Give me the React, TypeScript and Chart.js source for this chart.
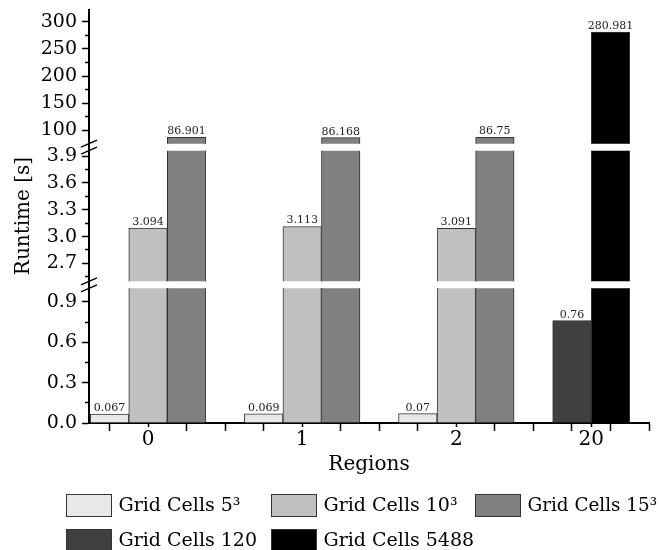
import React, { useEffect, useRef } from 'react';
import { Chart, registerables } from 'chart.js';

Chart.register(...registerables);

// ---- data ----
const regions = ['0', '1', '2', '20'];
const regionPos = [0, 1, 2, 2.875];
const seriesLabels = ['Grid Cells 5³', 'Grid Cells 10³', 'Grid Cells 15³', 'Grid Cells 120', 'Grid Cells 5488'];
const cells5 = [0.067, 0.069, 0.07, null];
const cells10 = [3.094, 3.113, 3.091, null];
const cells15 = [86.901, 86.168, 86.75, null];
const cells120 = [null, null, null, 0.76];
const cells5488 = [null, null, null, 280.981];
const seriesColors = ['#e8e8e8', '#c0c0c0', '#808080', '#404040', '#000000'];

const topTicks = [100, 150, 200, 250, 300];
const midTicks = [2.7, 3.0, 3.3, 3.6, 3.9];
const bottomTicks = [0, 0.3, 0.6, 0.9];

const FONT = 'DejaVu Serif';
const BAR_STEP = 0.25;
const AXIS_W = 81;

const allSeries = [cells5, cells10, cells15, cells120, cells5488];

const segments = [
  { id: 'yTop', min: 75, max: 322, majors: topTicks, decimals: 0, weight: 5, h: 133 },
  { id: 'yMid', min: 2.5, max: 3.96, majors: midTicks, decimals: 1, weight: 3, h: 130 },
  { id: 'yBot', min: 0, max: 1.0, majors: bottomTicks, decimals: 1, weight: 1, h: 134 },
];

const near = (a: number, b: number) => Math.abs(a - b) < 1e-9;

function tickValues(majors: number[], min: number, max: number) {
  const step = majors[1] - majors[0];
  const vals: number[] = [];
  majors.forEach((m) => {
    [m - step / 2, m, m + step / 2].forEach((v) => {
      const r = Number(v.toFixed(6));
      if (r >= min - 1e-9 && r <= max + 1e-9 && !vals.some((x) => near(x, r))) {
        if (near(r, m) || (r > min + 1e-9 && r < max - 1e-9)) vals.push(r);
      }
    });
  });
  return vals.sort((a, b) => a - b);
}

const fixStackWidth = (s: any) => {
  s.paddingTop = 0;
  s.paddingBottom = 0;
  s.width = AXIS_W;
};

function segAxis(seg: any, title?: boolean) {
  const isMajor = (v: number) => seg.majors.some((m: number) => near(m, v));
  return {
    type: 'linear',
    position: 'left',
    stack: 'y',
    stackWeight: seg.h,
    weight: seg.weight,
    min: seg.min,
    max: seg.max,
    afterBuildTicks: (s: any) => {
      s.ticks = tickValues(seg.majors, seg.min, seg.max).map((v) => ({ value: v }));
    },
    afterFit: fixStackWidth,
    ticks: {
      autoSkip: false,
      padding: 5,
      color: '#000',
      font: { family: FONT, size: 19 },
      callback: (v: number) => (isMajor(v) ? v.toFixed(seg.decimals) : ''),
    },
    grid: {
      display: true,
      drawOnChartArea: false,
      drawTicks: true,
      tickLength: 7,
      tickWidth: 1.5,
      tickColor: '#000',
      tickBorderDash: (ctx: any) => (ctx.tick && isMajor(ctx.tick.value) ? [] : [0, 3, 4, 100]),
    },
    border: { display: true, color: '#000', width: 2 },
    title: title
      ? {
          display: true,
          text: 'Runtime [s]',
          color: '#000',
          font: { family: FONT, size: 20 },
          padding: { top: 4, bottom: 4 },
        }
      : { display: false },
  };
}

function spacerAxis(weight: number) {
  return {
    type: 'linear',
    position: 'left',
    stack: 'y',
    stackWeight: 7,
    weight,
    min: 0,
    max: 1,
    ticks: { display: false },
    grid: { display: false },
    border: { display: true, color: '#000', width: 2 },
    afterFit: fixStackWidth,
  };
}

function buildDatasets() {
  const datasets: any[] = [];
  segments.forEach((seg) => {
    allSeries.forEach((vals, si) => {
      const data: any[] = [];
      vals.forEach((v, ri) => {
        if (v == null) return;
        const present = allSeries.map((s, k) => (s[ri] != null ? k : -1)).filter((k) => k >= 0);
        const k = present.indexOf(si);
        const off = (k - (present.length - 1) / 2) * BAR_STEP;
        data.push({ x: regionPos[ri] + off, y: v });
      });
      datasets.push({
        label: seriesLabels[si],
        data,
        yAxisID: seg.id,
        xAxisID: 'x',
        backgroundColor: seriesColors[si],
        borderColor: '#333333',
        borderWidth: 1,
        borderSkipped: 'start',
        grouped: false,
        barThickness: 38.5,
        clip: false,
      });
    });
  });
  return datasets;
}

const segClip = {
  id: 'segClip',
  beforeDatasetDraw(chart: any, args: any) {
    const ys = args.meta.yScale;
    const a = chart.chartArea;
    const ctx = chart.ctx;
    ctx.save();
    ctx.beginPath();
    ctx.rect(a.left, ys.top, a.right - a.left, ys.bottom - ys.top);
    ctx.clip();
  },
  afterDatasetDraw(chart: any) {
    chart.ctx.restore();
  },
};

const valueLabels = {
  id: 'valueLabels',
  afterDatasetsDraw(chart: any) {
    const ctx = chart.ctx;
    ctx.save();
    ctx.font = `11px "${FONT}"`;
    ctx.fillStyle = '#222';
    ctx.textAlign = 'center';
    ctx.textBaseline = 'alphabetic';
    chart.data.datasets.forEach((ds: any, di: number) => {
      const meta = chart.getDatasetMeta(di);
      const ys = meta.yScale;
      ds.data.forEach((p: any, j: number) => {
        if (p.y >= ys.min && p.y <= ys.max) {
          const el = meta.data[j];
          ctx.fillText(String(p.y), el.x, el.y - 3);
        }
      });
    });
    ctx.restore();
  },
};

const breakMarks = {
  id: 'breakMarks',
  afterDraw(chart: any) {
    const ctx = chart.ctx;
    const x = chart.chartArea.left;
    ctx.save();
    ctx.strokeStyle = '#000';
    ctx.lineWidth = 1.5;
    ['g1', 'g2'].forEach((id) => {
      const s = chart.scales[id];
      [s.top, s.bottom].forEach((y: number) => {
        ctx.beginPath();
        ctx.moveTo(x - 8, y + 3.5);
        ctx.lineTo(x + 8, y - 3.5);
        ctx.stroke();
      });
    });
    ctx.restore();
  },
};

const customLegend = {
  id: 'customLegend',
  afterDraw(chart: any) {
    const ctx = chart.ctx;
    const base = chart.scales.x.bottom;
    const cols = [66.5, 271.5, 475.5];
    const rows = [base + 13.5, base + 48.5];
    ctx.save();
    ctx.font = `19px "${FONT}"`;
    ctx.textBaseline = 'middle';
    ctx.textAlign = 'left';
    seriesLabels.forEach((lab, i) => {
      const bx = cols[i % 3];
      const by = rows[Math.floor(i / 3)];
      ctx.fillStyle = seriesColors[i];
      ctx.fillRect(bx, by, 45, 22);
      ctx.strokeStyle = '#333';
      ctx.lineWidth = 1;
      ctx.strokeRect(bx, by, 45, 22);
      ctx.fillStyle = '#000';
      const tx = bx + 52;
      const room = chart.width - tx - 2;
      ctx.fillText(lab, tx, by + 12, room);
    });
    ctx.restore();
  },
};

export default function App() {
  const ref = useRef<HTMLCanvasElement | null>(null);
  useEffect(() => {
    if (!ref.current) return;
    document.body.style.margin = '0';
    const xTicks: number[] = [];
    for (let k = -1; k <= 13; k++) xTicks.push(k * BAR_STEP);
    regionPos.forEach((p) => {
      if (!xTicks.some((t) => near(t, p))) xTicks.push(p);
    });
    xTicks.sort((a, b) => a - b);
    const isRegion = (v: number) => regionPos.some((p) => near(p, v));

    const chart = new Chart(ref.current, {
      type: 'bar',
      data: { datasets: buildDatasets() },
      options: {
        responsive: true,
        maintainAspectRatio: false,
        animation: false,
        events: [],
        layout: { padding: { top: 10, right: 10, bottom: 69, left: 8 } },
        plugins: { legend: { display: false }, tooltip: { enabled: false } },
        scales: {
          x: {
            type: 'linear',
            position: 'bottom',
            offset: false,
            min: -0.383,
            max: 3.25,
            afterBuildTicks: (s: any) => {
              s.ticks = xTicks.map((v) => ({ value: v }));
            },
            afterFit: (s: any) => {
              s.paddingLeft = 0;
              s.paddingRight = 0;
            },
            ticks: {
              autoSkip: false,
              maxRotation: 0,
              padding: -1,
              color: '#000',
              font: { family: FONT, size: 20, lineHeight: 1 },
              callback: (v: number) => {
                const i = regionPos.findIndex((p) => near(p, v));
                return i >= 0 ? regions[i] : '';
              },
            },
            grid: {
              display: true,
              offset: false,
              drawOnChartArea: false,
              drawTicks: true,
              tickLength: 8,
              tickWidth: 1.5,
              tickColor: '#000',
              tickBorderDash: (ctx: any) => (ctx.tick && isRegion(ctx.tick.value) ? [3, 100] : []),
            },
            border: { display: true, color: '#000', width: 2 },
            title: {
              display: true,
              text: 'Regions',
              color: '#000',
              font: { family: FONT, size: 20 },
              padding: { top: 4, bottom: 4 },
            },
          },
          yTop: segAxis(segments[0]),
          g1: spacerAxis(4),
          yMid: segAxis(segments[1], true),
          g2: spacerAxis(2),
          yBot: segAxis(segments[2]),
        } as any,
      },
      plugins: [segClip, valueLabels, breakMarks, customLegend],
    } as any);
    return () => chart.destroy();
  }, []);

  return (
    <div style={{ position: 'relative', width: 659, height: 550 }}>
      <canvas ref={ref} />
    </div>
  );
}
